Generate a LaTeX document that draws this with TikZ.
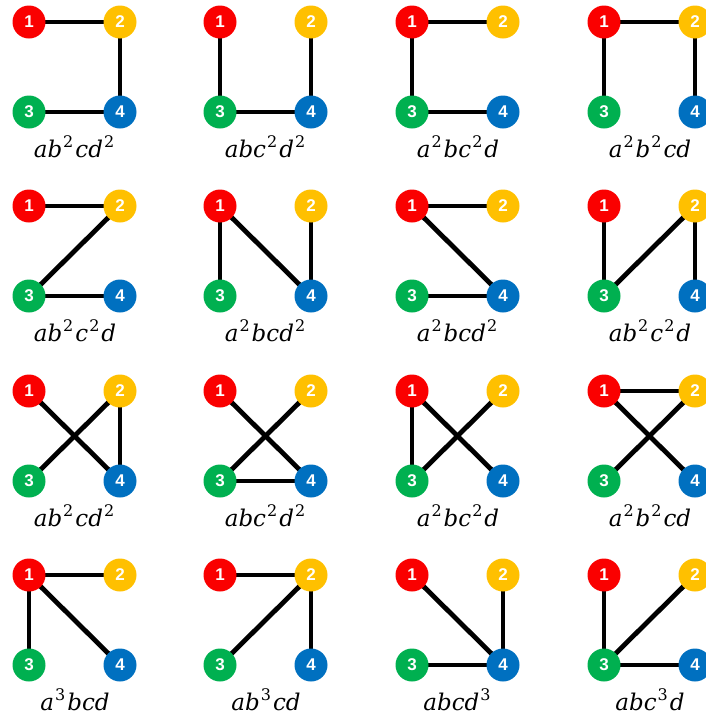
\documentclass[tikz,border=0pt]{standalone}
\usepackage{fontspec}
\newfontfamily\numfont{Liberation Sans}
\newfontfamily\labfont{DejaVu Serif}
\usetikzlibrary{backgrounds}
\definecolor{cred}{RGB}{250,0,0}
\definecolor{cyel}{RGB}{255,192,0}
\definecolor{cgrn}{RGB}{0,176,80}
\definecolor{cblu}{RGB}{0,112,192}
\newcommand{\ex}[1]{\kern1pt\raisebox{0.42em}{\upshape\fontsize{16}{16}\selectfont #1}\kern2pt}
\tikzset{
  vtx/.style={circle, minimum size=33pt, inner sep=0pt, text=white,
    font=\numfont\bfseries\fontsize{17}{17}\selectfont},
  edgeline/.style={line width=4.8pt, draw=black},
  lbl/.style={font=\labfont\itshape\fontsize{23}{28}\selectfont, anchor=base, inner sep=0pt}
}
\begin{document}
\begin{tikzpicture}[x=1pt,y=-1pt]
\useasboundingbox (0,0) rectangle (705,721);
\foreach \c/\r/\edges/\lab [count=\k] in {
  29/22/{1/2,2/4,3/4}/{ab\ex{2}cd\ex{2}},
  220/22/{1/3,3/4,2/4}/{abc\ex{2}d\ex{2}},
  412/22/{1/2,1/3,3/4}/{a\ex{2}bc\ex{2}d},
  604/22/{1/2,1/3,2/4}/{a\ex{2}b\ex{2}cd},
  29/206/{1/2,2/3,3/4}/{ab\ex{2}c\ex{2}d},
  220/206/{1/3,1/4,2/4}/{a\ex{2}bcd\ex{2}},
  412/206/{1/2,1/4,3/4}/{a\ex{2}bcd\ex{2}},
  604/206/{1/3,3/2,2/4}/{ab\ex{2}c\ex{2}d},
  29/391/{1/4,2/3,2/4}/{ab\ex{2}cd\ex{2}},
  220/391/{1/4,2/3,3/4}/{abc\ex{2}d\ex{2}},
  412/391/{1/3,1/4,2/3}/{a\ex{2}bc\ex{2}d},
  604/391/{1/2,1/4,2/3}/{a\ex{2}b\ex{2}cd},
  29/575/{1/2,1/3,1/4}/{a\ex{3}bcd},
  220/575/{1/2,2/3,2/4}/{ab\ex{3}cd},
  412/575/{1/4,2/4,3/4}/{abcd\ex{3}},
  604/575/{1/3,2/3,3/4}/{abc\ex{3}d}
}{
  \node[vtx, fill=cred] (n\k-1) at (\c,\r) {1};
  \node[vtx, fill=cyel] (n\k-2) at (\c+91,\r) {2};
  \node[vtx, fill=cgrn] (n\k-3) at (\c,\r+90) {3};
  \node[vtx, fill=cblu] (n\k-4) at (\c+91,\r+90) {4};
  \begin{scope}[on background layer]
    \foreach \a/\b in \edges {
      \draw[edgeline] (n\k-\a.center) -- (n\k-\b.center);
    }
  \end{scope}
  \node[lbl] (t\k) at (\c+46,\r+135) {\lab};
}
\end{tikzpicture}
\end{document}
